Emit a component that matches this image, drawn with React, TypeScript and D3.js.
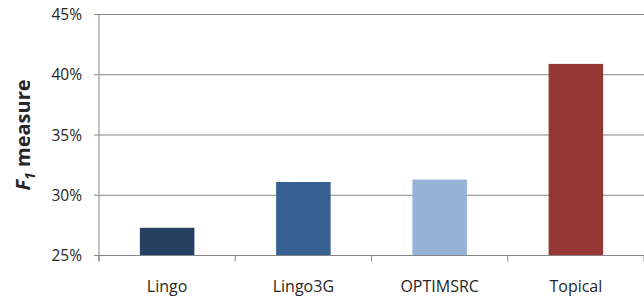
import React from 'react';
import * as d3 from 'd3';

const categories = ['Lingo', 'Lingo3G', 'OPTIMSRC', 'Topical'];
const f1Values = [0.273, 0.311, 0.313, 0.409];
const barColors = ['#254061', '#376092', '#95b3d7', '#953735'];
const yTickValues = [0.25, 0.3, 0.35, 0.4, 0.45];

const width = 644;
const height = 296;
const margin = { t: 14.5, b: 40.5, l: 99, r: 0 };
const font = "'Open Sans', 'Noto Sans', sans-serif";

export default function App() {
  const x = d3.scaleBand<string>()
    .domain(categories)
    .range([margin.l, width - margin.r])
    .paddingInner(0.6)
    .paddingOuter(0.3);

  const y = d3.scaleLinear()
    .domain([0.25, 0.45])
    .range([height - margin.b, margin.t]);

  const fmt = d3.format('.0%');
  const step = x.step();
  const x0 = margin.l;

  // gridlines and y ticks
  const yTicks = yTickValues.map(d => (
    <g key={d} transform={`translate(0,${y(d)})`}>
      <line x1={x0 - 5} x2={x0} stroke="#868686" strokeWidth={1} />
      {d > 0.25 ? <line x1={x0} x2={width} stroke="#868686" strokeWidth={1.2} /> : null}
      <text x={x0 - 17} y={5.5} textAnchor="end" fontSize={15.5} fill="#262626" fontFamily={font}>{fmt(d)}</text>
    </g>
  ));

  // x tick marks between categories
  const xTicks = d3.range(categories.length + 1).map(i => (
    <line key={i} x1={x0 + i * step} x2={x0 + i * step} y1={y(0.25)} y2={y(0.25) + 6} stroke="#868686" />
  ));

  return (
    <svg width={width} height={height} style={{ position: 'absolute', left: 0, top: 0 }}>
      <rect width={width} height={height} fill="#fff" />
      {yTicks}
      {categories.map((c, i) => (
        <rect key={c} x={x(c)} width={x.bandwidth()} y={y(f1Values[i])}
              height={y(0.25) - y(f1Values[i])} fill={barColors[i]} />
      ))}
      <line x1={x0} x2={x0} y1={margin.t} y2={y(0.25) + 6} stroke="#868686" />
      <line x1={x0} x2={width} y1={y(0.25)} y2={y(0.25)} stroke="#868686" />
      {xTicks}
      {categories.map(c => (
        <text key={c} x={(x(c) ?? 0) + x.bandwidth() / 2} y={292} textAnchor="middle"
              fontSize={16} fill="#262626" fontFamily={font}>{c}</text>
      ))}
      <text transform={`translate(30,${(margin.t + y(0.25)) / 2}) rotate(-90)`} textAnchor="middle"
            fontSize={20} fontWeight="bold" fill="#262626" fontFamily={font}>
        <tspan fontStyle="italic">F</tspan>
        <tspan fontStyle="italic" fontSize={14} dy={5}>1</tspan>
        <tspan dy={-5}> measure</tspan>
      </text>
    </svg>
  );
}
